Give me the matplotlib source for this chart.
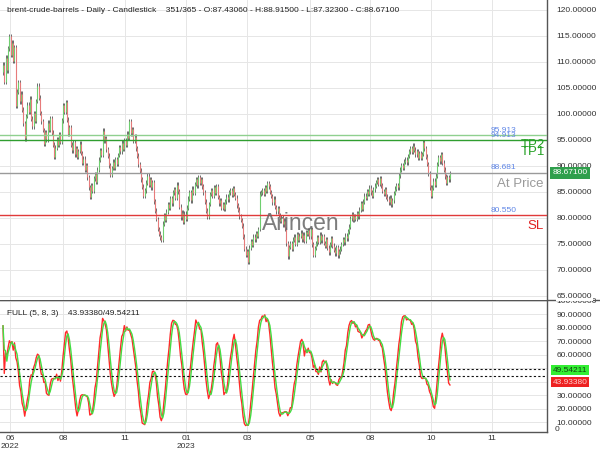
import numpy as np
import pandas as pd
import matplotlib
matplotlib.use('Agg')
import matplotlib.pyplot as plt
import matplotlib.transforms as mtransforms

plt.rcParams['font.family'] = ['Liberation Sans', 'DejaVu Sans']

# daily closes (bar 0 .. bar 350)
closes = [
    109.5, 106.2, 110.8, 108.4, 112.6, 114.9, 111.3, 113.7, 110.2, 112.8,
    101.6, 104.3, 106.1, 102.4, 103.9, 100.8, 98.2, 95.3, 99.6, 101.8,
    100.4, 102.9, 99.1, 97.6, 100.2, 98.7, 102.5, 105.4, 103.1, 100.2,
    98.6, 96.9, 94.2, 96.5, 95.1, 98.3, 97.0, 99.2, 96.4, 94.1,
    91.8, 93.5, 95.2, 94.0, 96.1, 94.6, 98.8, 101.7, 100.4, 102.3,
    98.9, 96.2, 97.4, 94.1, 93.0, 94.6, 92.2, 93.4, 91.8, 92.9,
    94.3, 92.5, 90.6, 91.4, 89.2, 90.1, 87.8, 85.9, 84.1, 86.3,
    85.2, 87.6, 88.4, 86.9, 89.3, 91.2, 93.0, 92.1, 96.8, 94.9,
    95.4, 93.2, 92.0, 90.1, 88.3, 89.6, 90.8, 89.7, 91.3, 90.4,
    92.1, 93.6, 92.8, 94.5, 93.3, 95.0, 94.1, 96.2, 95.4, 98.6,
    96.3, 97.1, 94.8, 95.6, 93.4, 92.0, 90.3, 89.1, 87.4, 86.0,
    84.2, 85.3, 86.8, 88.1, 86.4, 87.5, 85.9, 86.9, 83.2, 81.4,
    79.8, 77.9, 77.0, 76.3, 75.8, 78.9, 80.6, 79.7, 81.2, 82.6,
    81.9, 83.8, 82.8, 84.9, 85.5, 83.9, 86.4, 85.1, 82.2, 80.1,
    81.0, 79.3, 80.8, 79.8, 82.0, 83.7, 84.9, 83.4, 85.6, 84.8,
    86.5, 87.4, 86.3, 87.9, 86.8, 87.5, 86.1, 84.9, 83.1, 81.4,
    80.2, 82.7, 84.6, 85.4, 84.2, 85.9, 84.8, 86.1, 84.0, 82.8,
    83.4, 81.9, 82.6, 81.7, 83.2, 84.1, 83.6, 84.9, 85.3, 84.4,
    85.7, 84.6, 83.9, 82.4, 81.6, 80.3, 79.6, 78.5, 76.4, 74.1,
    72.9, 73.6, 71.6, 74.3, 75.6, 74.8, 76.4, 75.9, 77.1, 76.6,
    77.9, 84.7, 84.9, 85.4, 84.6, 85.9, 85.2, 86.7, 86.1, 85.0,
    84.2, 83.0, 83.7, 82.1, 81.3, 81.9, 80.6, 79.4, 80.1, 78.8,
    79.5, 77.9, 75.1, 72.6, 74.4, 75.2, 74.1, 75.8, 76.4, 75.0,
    76.9, 75.8, 76.6, 77.2, 75.9, 76.8, 75.6, 77.3, 76.9, 77.6,
    76.5, 77.8, 74.9, 72.9, 74.2, 75.1, 76.3, 75.4, 76.8, 75.7,
    76.5, 75.2, 74.6, 75.9, 74.3, 73.4, 74.9, 76.1, 74.7, 73.9,
    73.2, 74.4, 72.8, 73.6, 74.1, 75.0, 75.9, 75.3, 76.6, 76.1,
    77.4, 78.3, 79.9, 80.7, 79.6, 80.4, 79.8, 80.9, 80.3, 81.6,
    82.8, 81.7, 83.1, 84.3, 83.9, 85.1, 84.6, 85.8, 84.9, 84.2,
    85.5, 86.2, 86.9, 87.4, 86.5, 87.6, 86.3, 85.2, 84.6, 85.5,
    84.1, 83.7, 83.0, 83.9, 82.6, 83.4, 84.8, 85.6, 86.3, 85.9,
    88.2, 89.3, 90.1, 89.6, 90.8, 91.2, 90.7, 91.9, 92.8, 93.4,
    92.7, 93.9, 93.1, 92.2, 92.9, 91.5, 92.4, 91.6, 92.3, 94.6,
    93.4, 91.8, 90.4, 88.6, 85.9, 84.3, 85.8, 87.2, 86.4, 88.1,
    90.4, 91.7, 90.9, 92.2, 90.6, 89.3, 88.0, 86.7, 87.9, 87.4306,
    88.671,
]
first_open = 108.0

levels = [95.913, 94.913, 88.681, 80.550]
level_names = ['TP2', 'TP1', 'At Price', 'SL']

k_last = 43.93380
d_last = 49.54211

tick_bars = [5.5, 47, 95.5, 143.5, 191, 240.5, 287.5, 335, 383]
tick_labels = ['06\n2022', '08', '11', '01\n2023', '03', '05', '08', '10', '11']

price_ticks = np.arange(65, 121, 5)
stoch_ticks = [10, 20, 30, 40, 50, 60, 70, 80, 90, 100]

title = ('brent-crude-barrels - Daily - Candlestick    351/365 - O:87.43060 - '
         'H:88.91500 - L:87.32300 - C:88.67100')

# ---- prep ----
c = np.array(closes)
o = np.r_[first_open, c[:-1]]
wick = 0.45
h = np.maximum(o, c) + wick
l = np.minimum(o, c) - wick
x = np.arange(len(c))

df = pd.DataFrame({'h': h, 'l': l, 'c': c})
hh = df['h'].rolling(5, min_periods=1).max()
ll = df['l'].rolling(5, min_periods=1).min()
fastk = 100 * (df['c'] - ll) / (hh - ll)
k = fastk.rolling(8, min_periods=1).mean()
d = k.rolling(3, min_periods=1).mean()

grid_c = '#e6e6e6'
axis_c = '#555555'
fs = 6.0

fig = plt.figure(figsize=(6, 4.5), dpi=100)
ax = fig.add_axes([0, 1 - 300 / 450, 547 / 600, 300 / 450])
ax2 = fig.add_axes([0, 1 - 432 / 450, 547 / 600, 132 / 450])
ax.set_zorder(3)

xlim = (-2.35, 426)

# ---- main panel ----
ax.set_xlim(*xlim)
ax.set_ylim(64.23, 121.9)
for sp in ['top', 'left', 'bottom']:
    ax.spines[sp].set_visible(False)
ax.spines['right'].set_color(axis_c)
ax.spines['right'].set_linewidth(1.0)
ax.set_xticks(tick_bars)
ax.set_xticklabels([])
ax.tick_params(axis='x', length=0)
ax.yaxis.tick_right()
ax.set_yticks(price_ticks)
ax.set_yticklabels(['%.5f' % v for v in price_ticks], fontsize=fs, color='#333333')
ax.tick_params(axis='y', length=0, pad=7)
for t in ax.get_yticklabels():
    t.set_bbox(dict(facecolor='white', edgecolor='none', pad=0.6))
ax.grid(True, color=grid_c, lw=0.7)
ax.set_axisbelow(True)

up = c >= o
ax.vlines(x, l, h, color='#333333', lw=0.5, zorder=2)
ax.vlines(x[up], o[up], c[up], color='#6fcf6f', lw=0.8, zorder=3)
ax.vlines(x[~up], c[~up], o[~up], color='#e77b7b', lw=0.8, zorder=3)

line_cols = ['#8fd08f', '#2f9e2f', '#9a9a9a', '#e03a3a']
for lv, col in zip(levels, line_cols):
    ax.axhline(lv, color=col, lw=1.0, zorder=4)
for lv in levels:
    ax.text(382, lv + 0.3, '%.3f' % lv, color='#5f86e6', fontsize=fs,
            va='bottom', ha='left', zorder=5)

ax.text(424.5, 94.0, level_names[0], color='#23a023', fontsize=9.5,
        ha='right', va='center', zorder=5)
ax.text(424.5, 92.6, level_names[1], color='#23a023', fontsize=9.5,
        ha='right', va='center', zorder=5)
ax.text(423.5, 86.5, level_names[2], color='#9a9a9a', fontsize=9.5,
        ha='right', va='center', zorder=5)
ax.text(423.5, 78.5, level_names[3], color='#e02020', fontsize=9.5,
        ha='right', va='center', zorder=5)

ax.text(233, 78.9, 'Arincen', color='#666666', alpha=0.85, fontsize=16.5,
        ha='center', va='center', zorder=6)

ax.text(7 / 547, 1 - 10 / 300, title, transform=ax.transAxes, fontsize=fs,
        color='#222222', va='center', ha='left', zorder=6)

trans = mtransforms.blended_transform_factory(ax.transAxes, ax.transData)
ax.text(1.01, c[-1], '%.5f' % c[-1], transform=trans, fontsize=fs,
        color='white', va='center', ha='left', clip_on=False, zorder=7,
        bbox=dict(facecolor='#2f9f4c', edgecolor='none', pad=1.6))

# ---- stochastic panel ----
ax2.set_xlim(*xlim)
ax2.set_ylim(2.6, 100.4)
for sp in ['top', 'left']:
    ax2.spines[sp].set_visible(False)
for sp in ['right', 'bottom']:
    ax2.spines[sp].set_color(axis_c)
    ax2.spines[sp].set_linewidth(1.0)
ax2.set_xticks(tick_bars)
ax2.set_xticklabels(tick_labels, fontsize=fs, color='#333333', linespacing=1.3,
                    va='top')
ax2.tick_params(axis='x', length=0, pad=2)
ax2.yaxis.tick_right()
ax2.set_yticks(stoch_ticks)
# 40 and 50 sit behind the value boxes in the reference
ax2.set_yticklabels(['' if v in (40, 50) else '%.5f' % v for v in stoch_ticks],
                    fontsize=fs, color='#333333')
ax2.tick_params(axis='y', length=0, pad=7)
ax2.grid(True, color=grid_c, lw=0.7)
ax2.set_axisbelow(True)

ax2.plot(x, k, color='#ff2a2a', lw=1.0)
ax2.plot(x, d, color='#44dd44', lw=1.0)
ax2.axhline(d_last, color='#111111', lw=0.8, ls=(0, (2, 2)))
ax2.axhline(k_last, color='#111111', lw=0.8, ls=(0, (2, 2)))

trans2 = mtransforms.blended_transform_factory(ax2.transAxes, ax2.transData)
ax2.text(1.01, 48.5, '%.5f' % d_last, transform=trans2, fontsize=fs,
         color='#114411', va='center', ha='left', clip_on=False,
         bbox=dict(facecolor='#33ee33', edgecolor='none', pad=1.4))
ax2.text(1.01, 39.6, '%.5f' % k_last, transform=trans2, fontsize=fs,
         color='#ffd0d0', va='center', ha='left', clip_on=False,
         bbox=dict(facecolor='#ee2222', edgecolor='none', pad=1.4))
ax2.text(1.014, 4.5, '0', transform=trans2, fontsize=fs, color='#333333',
         va='center', ha='left', clip_on=False)

ax2.text(7 / 547, 90.3, 'FULL (5, 8, 3)    %.5f/%.5f' % (k_last, d_last),
         transform=trans2, fontsize=fs, color='#222222', va='center', ha='left')

fig.add_artist(plt.Line2D([0, 1], [1 - 300 / 450] * 2, color=axis_c, lw=1.0,
                          transform=fig.transFigure))

fig.savefig('out.png', dpi=100)
